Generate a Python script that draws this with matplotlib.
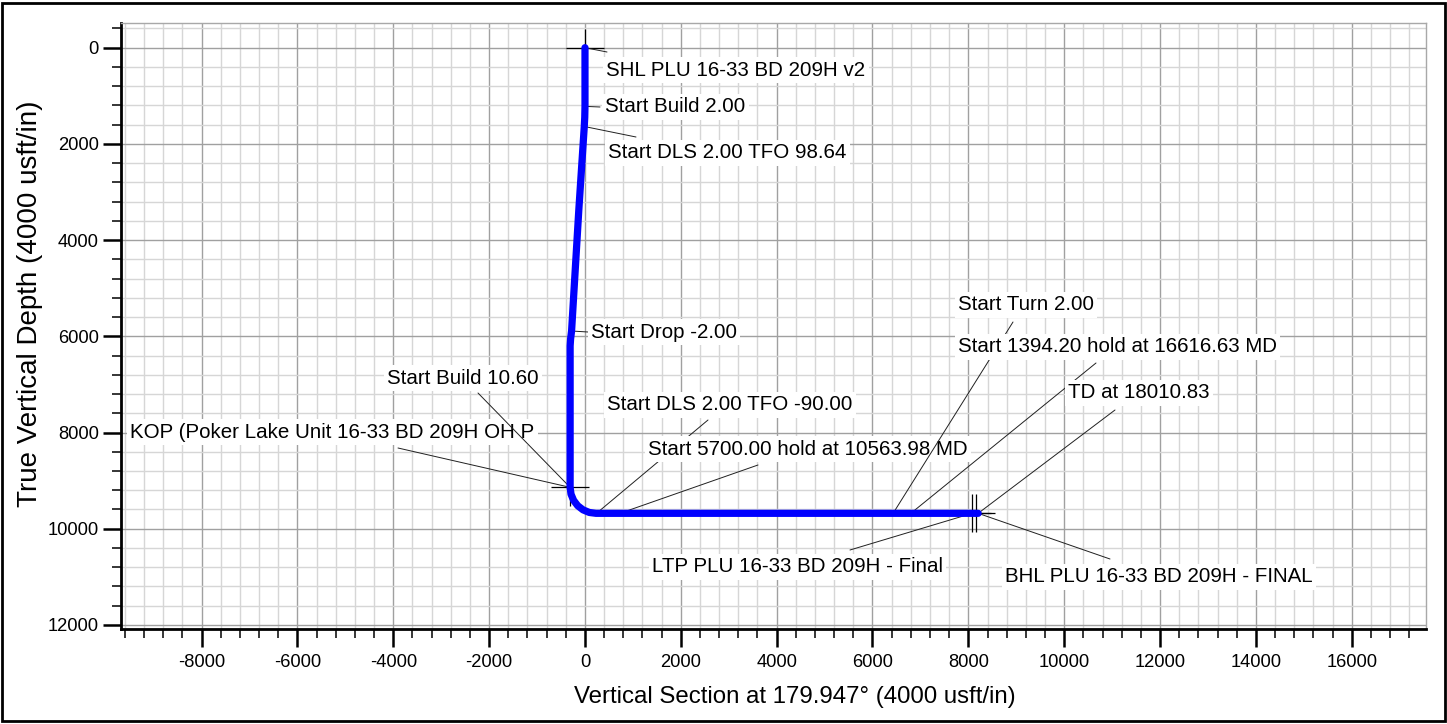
import matplotlib
matplotlib.use("Agg")
import matplotlib.pyplot as plt
from matplotlib.ticker import MultipleLocator, FixedLocator
from matplotlib.patches import Rectangle

plt.rcParams['font.family'] = ['Liberation Sans', 'DejaVu Sans']
plt.rcParams['axes.unicode_minus'] = False

# ---- data ----
path_vs = [0, 0, -5, -15, -129, -280, -300, -310, -310, -292, -238, -152, -40, 90, 230, 730, 6430, 6800, 8205]
path_tvd = [0, 1220, 1450, 1640, 3374, 5890, 6050, 6200, 9140, 9280, 9410, 9522, 9608, 9662, 9680, 9680, 9680, 9680, 9680]

event_labels = [
    "SHL PLU 16-33 BD 209H v2",
    "Start Build 2.00",
    "Start DLS 2.00 TFO 98.64",
    "Start Drop -2.00",
    "KOP (Poker Lake Unit 16-33 BD 209H OH P",
    "Start Build 10.60",
    "Start DLS 2.00 TFO -90.00",
    "Start 5700.00 hold at 10563.98 MD",
    "Start Turn 2.00",
    "Start 1394.20 hold at 16616.63 MD",
    "TD at 18010.83",
    "LTP PLU 16-33 BD 209H - Final",
    "BHL PLU 16-33 BD 209H - FINAL",
]
event_vs = [0, 0, -5, -280, -310, -310, 240, 730, 6430, 6800, 8205, 8080, 8205]
event_tvd = [0, 1220, 1640, 5890, 9140, 9140, 9680, 9680, 9680, 9680, 9680, 9680, 9680]

marker_vs = [0, -310, 8075, 8165]
marker_tvd = [0, 9140, 9680, 9680]

x_ticks = [-8000, -6000, -4000, -2000, 0, 2000, 4000, 6000, 8000, 10000, 12000, 14000, 16000]
y_ticks = [0, 2000, 4000, 6000, 8000, 10000, 12000]

x_label = "Vertical Section at 179.947° (4000 usft/in)"
y_label = "True Vertical Depth (4000 usft/in)"

# ---- layout (pixels, top-left origin) ----
W, H = 1447, 724
# text left x, text center y, leader end x, leader end y
label_pos = [
    (606, 70, 607, 52),
    (605, 107, 600, 107),
    (608, 153, 636, 137),
    (591, 332, 588, 332),
    (130, 432, 398, 448),
    (387, 378, 478, 393),
    (607, 405, 708, 420),
    (648, 449, 758, 465),
    (958, 305, 1013, 322),
    (958, 347, 1096, 363),
    (1068, 393, 1115, 410),
    (652, 567, 850, 550),
    (1005, 577, 1110, 559),
]

fig = plt.figure(figsize=(W / 100, H / 100), dpi=100)
L, R, T, B = 121, 1426, 23.3, 629.3
ax = fig.add_axes([L / W, 1 - B / H, (R - L) / W, (B - T) / H])
ax.set_xlim(-9683, 17551)
ax.set_ylim(12091, -507)

ax.xaxis.set_major_locator(FixedLocator(x_ticks))
ax.yaxis.set_major_locator(FixedLocator(y_ticks))
ax.xaxis.set_minor_locator(MultipleLocator(400))
ax.yaxis.set_minor_locator(MultipleLocator(400))
ax.set_xticklabels([str(v) for v in x_ticks], fontsize=13.2)
ax.set_yticklabels([str(v) for v in y_ticks], fontsize=13.2)

ax.set_axisbelow(True)
ax.grid(which='major', color='#a0a0a0', lw=1.0)
ax.grid(which='minor', color='#d6d6d6', lw=1.0)

for s in ['top', 'right']:
    ax.spines[s].set_color('#a8a8a8')
    ax.spines[s].set_linewidth(1.0)
for s in ['left', 'bottom']:
    ax.spines[s].set_color('black')
    ax.spines[s].set_linewidth(2.0)

ax.tick_params(axis='x', which='major', pad=5)
ax.tick_params(axis='y', which='major', pad=3)
ax.tick_params(which='major', length=13, width=1.8, direction='out',
               top=False, right=False, colors='black')
ax.tick_params(which='minor', length=6.5, width=1.1, direction='out', top=False, right=False)

# markers
ax.plot(marker_vs, marker_tvd, linestyle='none', marker='+', markersize=27,
        markeredgewidth=0.9, color='black', zorder=4)

# well path
ax.plot(path_vs, path_tvd, color='#0000ff', lw=5.2, solid_capstyle='round',
        solid_joinstyle='round', zorder=10)

# annotations with leaders
for k in range(len(event_labels)):
    tx, ty, lx, ly = label_pos[k]
    z = 5 + k * 0.1
    ax.annotate('', xy=(event_vs[k], event_tvd[k]), xycoords='data',
                xytext=(lx / W, 1 - ly / H), textcoords='figure fraction',
                arrowprops=dict(arrowstyle='-', color='#202020', lw=0.7,
                                shrinkA=0, shrinkB=0), zorder=z, annotation_clip=False)
    ax.text(tx / W, 1 - ty / H, event_labels[k], transform=fig.transFigure,
            ha='left', va='center', fontsize=14.8, color='black', zorder=z + 0.05,
            bbox=dict(facecolor='white', edgecolor='none', pad=2.5))

fig.text(795 / W, 1 - 697 / H, x_label, ha='center', va='center', fontsize=17.3)
fig.text(30 / W, 1 - 304 / H, y_label, ha='center', va='center', rotation=90, fontsize=20)

fig.patches.append(Rectangle((2 / W, 3 / H), 1443 / W, 718 / H, transform=fig.transFigure,
                             fill=False, edgecolor='black', lw=2))

fig.savefig('out.png', dpi=100)
